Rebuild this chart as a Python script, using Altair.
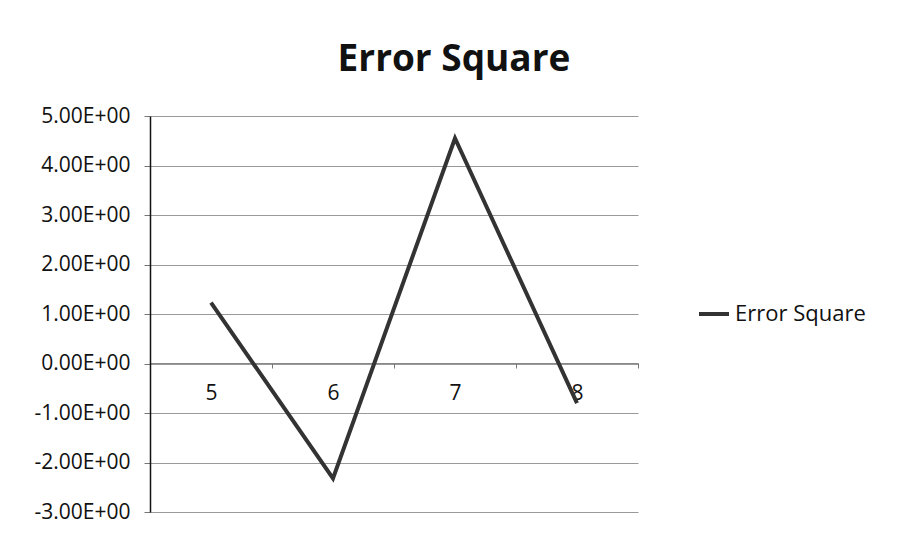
import altair as alt
import pandas as pd

categories = ["5", "6", "7", "8"]
values = [1.23, -2.32, 4.55, -0.80]
series_name = "Error Square"
y_ticks = [-3, -2, -1, 0, 1, 2, 3, 4, 5]

df = pd.DataFrame({"cat": categories, "val": values, "series": [series_name] * len(categories)})

FONT = "Open Sans"

line = alt.Chart(df).mark_line(strokeWidth=4).encode(
    x=alt.X(
        "cat:O",
        sort=categories,
        bandPosition=0.5,
        scale=alt.Scale(type="band", paddingInner=0, paddingOuter=0),
        axis=alt.Axis(
            title=None,
            orient="bottom",
            offset=-149,
            tickBand="extent",
            tickSize=5,
            tickColor="#777777",
            domainColor="#888888",
            domainWidth=1,
            labelFontSize=21,
            labelFont=FONT,
            labelColor="#111111",
            labelPadding=14,
            labelAngle=0,
            grid=False,
        ),
    ),
    y=alt.Y(
        "val:Q",
        scale=alt.Scale(domain=[-3, 5], nice=False, zero=False),
        axis=alt.Axis(
            title=None,
            values=y_ticks,
            labelExpr="(datum.value < 0 ? '-' : '') + format(abs(datum.value), '.2f') + 'E+00'",
            labelFontSize=21,
            labelFont=FONT,
            labelColor="#111111",
            labelPadding=14,
            tickSize=6,
            tickColor="#777777",
            domainColor="#111111",
            domainWidth=1.5,
            gridColor="#999999",
            gridWidth=1,
        ),
    ),
    color=alt.Color(
        "series:N",
        scale=alt.Scale(range=["#333333"]),
        legend=alt.Legend(
            title=None,
            orient="none",
            legendX=547,
            legendY=181,
            symbolType="stroke",
            symbolSize=900,
            symbolStrokeWidth=4,
            labelFontSize=22,
            labelFont=FONT,
            labelColor="#111111",
        ),
    ),
)

chart = line.properties(
    width=488,
    height=396,
    title=alt.Title(
        "Error Square",
        fontSize=37,
        font=FONT,
        fontWeight="bold",
        color="#111111",
        anchor="middle",
        dx=60,
        offset=26,
    ),
    autosize=alt.AutoSizeParams(type="none"),
    padding={"left": 142, "top": 108, "right": 250, "bottom": 15},
).configure(background="white").configure_view(strokeWidth=0)

chart.save("out.html", embed_options={"renderer": "svg", "actions": False})
